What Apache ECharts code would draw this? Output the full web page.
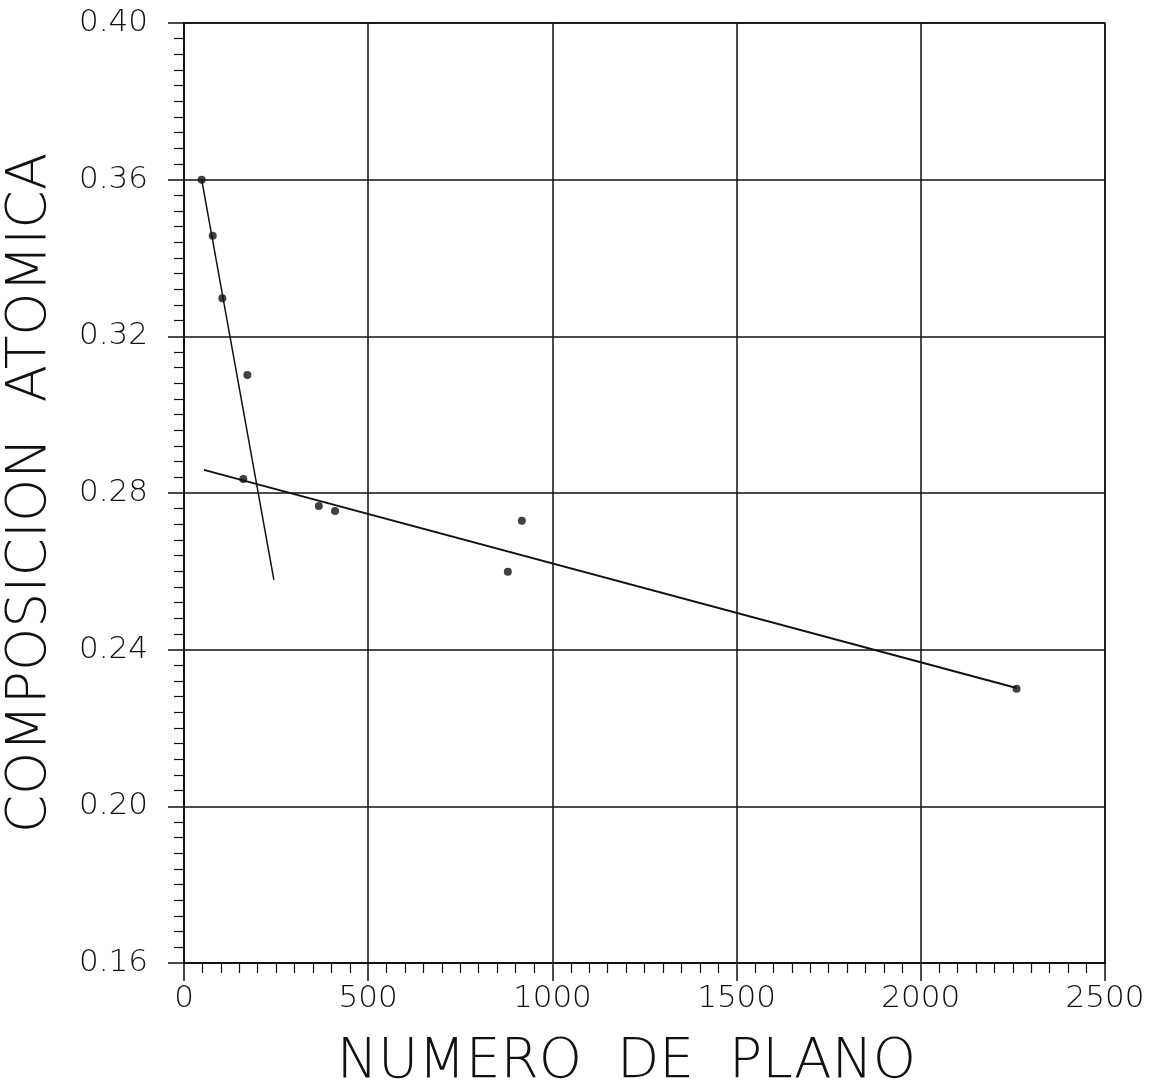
<!DOCTYPE html>
<html>
<head>
<meta charset="utf-8">
<script src="https://cdn.jsdelivr.net/npm/echarts@6/dist/echarts.min.js"></script>
<style>
  html, body { margin: 0; padding: 0; background: #fff; }
  #chart { width: 1156px; height: 1084px; }
</style>
</head>
<body>
<div id="chart"></div>
<script>
// measured points
const planeNumber = [48, 78, 104, 172, 161, 366, 410, 879, 917, 2260];
const composition = [0.360, 0.3457, 0.3297, 0.3101, 0.2836, 0.2767, 0.2754, 0.2599, 0.2729, 0.2300];

// fitted lines (end points)
const steepX = [48, 244];
const steepY = [0.360, 0.2578];
const shallowX = [54, 2260];
const shallowY = [0.2859, 0.2302];

const xTicks = [0, 500, 1000, 1500, 2000, 2500];
const yTicks = [0.16, 0.20, 0.24, 0.28, 0.32, 0.36, 0.40];

const font = "DejaVu Sans";
const ink = "#111";

const chart = echarts.init(document.getElementById("chart"));

const toPairs = (xs, ys) => xs.map((x, i) => [x, ys[i]]);

chart.setOption({
  backgroundColor: "#fff",
  animation: false,
  grid: {
    left: 184, top: 23, right: 51, bottom: 121,
    outerBoundsMode: "none", containLabel: false,
    show: true, borderColor: ink, borderWidth: 1.5
  },
  xAxis: {
    type: "value",
    min: xTicks[0],
    max: xTicks[xTicks.length - 1],
    interval: 500,
    name: "NUMERO  DE  PLANO",
    nameLocation: "middle",
    nameGap: 72,
    nameTextStyle: { fontFamily: font, fontWeight: 200, fontSize: 55, color: ink, padding: [0, 36, 0, 0] },
    axisLine: { lineStyle: { color: ink, width: 2 } },
    axisTick: { length: 18, lineStyle: { color: ink, width: 1.5 } },
    minorTick: { show: true, splitNumber: 10, length: 10, lineStyle: { color: ink, width: 1.2 } },
    axisLabel: {
      fontFamily: font, fontWeight: 200, fontSize: 31, color: ink, margin: 20,
      formatter: v => String(v)
    },
    splitLine: { show: true, lineStyle: { color: ink, width: 1.5 } }
  },
  yAxis: {
    type: "value",
    min: yTicks[0],
    max: yTicks[yTicks.length - 1],
    interval: 0.04,
    name: "COMPOSICION  ATOMICA",
    nameLocation: "middle",
    nameGap: 126,
    nameTextStyle: { fontFamily: font, fontWeight: 200, fontSize: 55, color: ink },
    axisLine: { lineStyle: { color: ink, width: 2 } },
    axisTick: { length: 16, lineStyle: { color: ink, width: 1.5 } },
    minorTick: { show: true, splitNumber: 10, length: 10, lineStyle: { color: ink, width: 1.2 } },
    axisLabel: {
      fontFamily: font, fontWeight: 200, fontSize: 31, color: ink, margin: 36,
      formatter: v => v.toFixed(2)
    },
    splitLine: { show: true, lineStyle: { color: ink, width: 1.5 } }
  },
  series: [
    {
      type: "line",
      data: toPairs(steepX, steepY),
      symbol: "none",
      lineStyle: { color: ink, width: 1.5 }
    },
    {
      type: "line",
      data: toPairs(shallowX, shallowY),
      symbol: "none",
      lineStyle: { color: ink, width: 2 }
    },
    {
      type: "scatter",
      data: toPairs(planeNumber, composition),
      symbol: "circle",
      symbolSize: 8,
      itemStyle: { color: ink }
    }
  ]
});
</script>
</body>
</html>
